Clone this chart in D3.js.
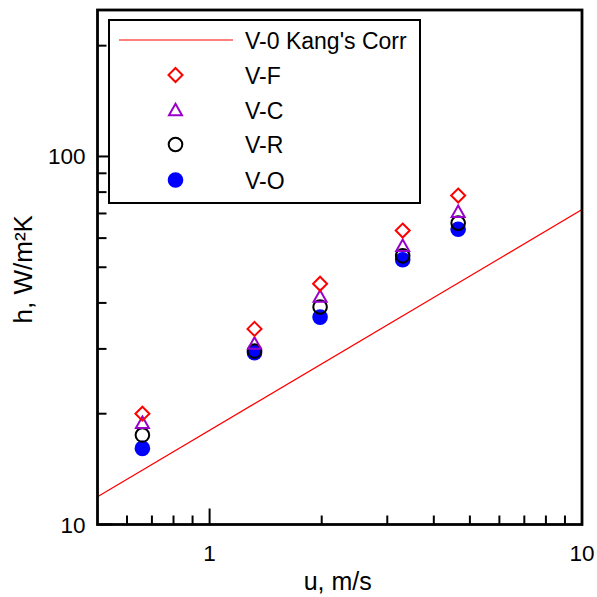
<!DOCTYPE html>
<html>
<head>
<meta charset="utf-8">
<script src="https://cdn.jsdelivr.net/npm/d3@7"></script>
<style>
  html, body { margin: 0; padding: 0; background: #fff; }
  svg { display: block; }
  text { font-family: "Liberation Sans", Arial, sans-serif; fill: #000; }
</style>
</head>
<body>
<svg id="chart" width="597" height="597"></svg>
<script>
// Air velocity (m/s) at which each configuration was tested
const uVals = [0.66, 1.32, 1.98, 3.3, 4.65];
// Heat transfer coefficient h (W/m²K) for each configuration
const hVF = [20.0, 34.0, 45.1, 62.9, 78.3];
const hVC = [18.9, 31.0, 41.6, 57.2, 70.7];
const hVR = [17.5, 29.6, 39.0, 53.7, 65.9];
const hVO = [16.1, 29.3, 36.6, 52.4, 63.4];
// Kang's correlation for V-0 (straight line on log-log axes)
const corrU = [0.5, 10];
const corrH = [11.9, 71.7];
// Axis ticks
const xMajor = [1, 10];
const xMinor = [0.6, 0.7, 0.8, 0.9, 2, 3, 4, 5, 6, 7, 8, 9];
const yMajor = [10, 100];
const yMinor = [20, 30, 40, 50, 60, 70, 80, 90, 200];
const xTickLabels = ["1", "10"];
const yTickLabels = ["10", "100"];
const seriesNames = ["V-0 Kang's Corr", "V-F", "V-C", "V-R", "V-O"];

const svg = d3.select("#chart");
const plot = { left: 97.5, top: 10, right: 582, bottom: 524.5 };

const x = d3.scaleLog().domain([0.5, 10]).range([plot.left, plot.right]);
const y = d3.scaleLog().domain([10, 250]).range([plot.bottom, plot.top]);

const RED = "#ff0000", PURPLE = "#9900cc", BLUE = "#0000ff";

// Correlation line, clipped to the plot area
svg.append("clipPath").attr("id", "clip")
  .append("rect")
  .attr("x", plot.left).attr("y", plot.top)
  .attr("width", plot.right - plot.left).attr("height", plot.bottom - plot.top);

const corr = corrU.map((u, i) => [u, corrH[i]]);
svg.append("path")
  .datum(corr)
  .attr("clip-path", "url(#clip)")
  .attr("fill", "none")
  .attr("stroke", RED)
  .attr("stroke-width", 1.2)
  .attr("d", d3.line().x(d => x(d[0])).y(d => y(d[1])));

// Marker drawing helpers
function drawMarker(g, kind, cx, cy) {
  if (kind === "diamond") {
    const s = 7;
    g.append("path")
      .attr("d", `M${cx},${cy - s}L${cx + s},${cy}L${cx},${cy + s}L${cx - s},${cy}Z`)
      .attr("fill", "none").attr("stroke", RED).attr("stroke-width", 2);
  } else if (kind === "triangle") {
    const w = 6.5, hgt = 11.5;
    g.append("path")
      .attr("d", `M${cx},${cy - hgt * 0.55}L${cx + w},${cy + hgt * 0.45}L${cx - w},${cy + hgt * 0.45}Z`)
      .attr("fill", "none").attr("stroke", PURPLE).attr("stroke-width", 2);
  } else if (kind === "circle") {
    g.append("circle").attr("cx", cx).attr("cy", cy).attr("r", 6.8)
      .attr("fill", "none").attr("stroke", "#000").attr("stroke-width", 2);
  } else if (kind === "dot") {
    g.append("circle").attr("cx", cx).attr("cy", cy).attr("r", 7.8)
      .attr("fill", BLUE).attr("stroke", "none");
  }
}

// Data markers, bottom layer first
const series = [
  { kind: "dot", vals: hVO },
  { kind: "circle", vals: hVR },
  { kind: "triangle", vals: hVC },
  { kind: "diamond", vals: hVF }
];
const marks = svg.append("g");
series.forEach(s => {
  s.vals.forEach((h, i) => drawMarker(marks, s.kind, x(uVals[i]), y(h)));
});

// Axis ticks (inward)
const axisG = svg.append("g").attr("stroke", "#000").attr("stroke-width", 2);
xMajor.forEach(v => axisG.append("line")
  .attr("x1", x(v)).attr("x2", x(v)).attr("y1", plot.bottom).attr("y2", plot.bottom - 16));
xMinor.forEach(v => axisG.append("line")
  .attr("x1", x(v)).attr("x2", x(v)).attr("y1", plot.bottom).attr("y2", plot.bottom - 9));
yMajor.forEach(v => axisG.append("line")
  .attr("x1", plot.left).attr("x2", plot.left + 15).attr("y1", y(v)).attr("y2", y(v)));
yMinor.forEach(v => axisG.append("line")
  .attr("x1", plot.left).attr("x2", plot.left + 9).attr("y1", y(v)).attr("y2", y(v)));

// Plot frame
svg.append("rect")
  .attr("x", plot.left).attr("y", plot.top)
  .attr("width", plot.right - plot.left).attr("height", plot.bottom - plot.top)
  .attr("fill", "none").attr("stroke", "#000").attr("stroke-width", 2.8);

// Tick labels
xMajor.forEach((v, i) => svg.append("text")
  .attr("x", x(v)).attr("y", plot.bottom + 36)
  .attr("text-anchor", "middle").attr("font-size", 22.5)
  .text(xTickLabels[i]));
yMajor.forEach((v, i) => svg.append("text")
  .attr("x", plot.left - 12).attr("y", y(v) + 8)
  .attr("text-anchor", "end").attr("font-size", 22.5)
  .text(yTickLabels[i]));

// Axis titles
svg.append("text")
  .attr("x", (plot.left + plot.right) / 2 - 2).attr("y", 590)
  .attr("text-anchor", "middle").attr("font-size", 25)
  .text("u, m/s");
svg.append("text")
  .attr("transform", `translate(32,${(plot.top + plot.bottom) / 2 + 2}) rotate(-90)`)
  .attr("text-anchor", "middle").attr("font-size", 26)
  .text("h, W/m²K");

// Legend
const leg = svg.append("g");
leg.append("rect")
  .attr("x", 109).attr("y", 20).attr("width", 311).attr("height", 183)
  .attr("fill", "#fff").attr("stroke", "#000").attr("stroke-width", 2);
const legY = [40, 75, 110, 144.5, 180];
leg.append("line")
  .attr("x1", 119).attr("x2", 233).attr("y1", legY[0]).attr("y2", legY[0])
  .attr("stroke", RED).attr("stroke-width", 1.2);
["diamond", "triangle", "circle", "dot"].forEach((k, i) => drawMarker(leg, k, 175.5, legY[i + 1]));
seriesNames.forEach((name, i) => leg.append("text")
  .attr("x", 245).attr("y", legY[i] + 8.5)
  .attr("font-size", 23)
  .text(name));
</script>
</body>
</html>
